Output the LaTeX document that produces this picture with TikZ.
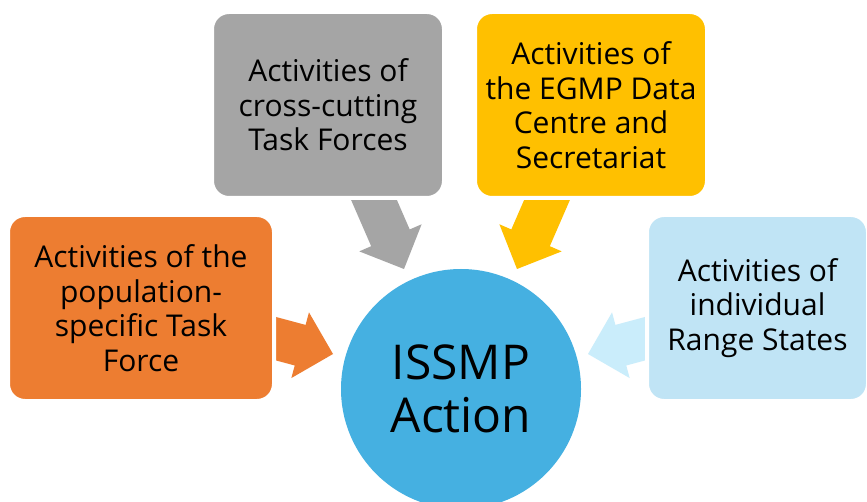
\documentclass[tikz,border=0pt]{standalone}
\usepackage{fontspec}
\setmainfont{Open Sans}
\usetikzlibrary{backgrounds}
\definecolor{cOrange}{HTML}{ED7D31}
\definecolor{cGray}{HTML}{A5A5A5}
\definecolor{cYellow}{HTML}{FFC000}
\definecolor{cCircle}{HTML}{45B0E1}
\definecolor{cPaleBox}{HTML}{C0E4F5}
\definecolor{cPaleArrow}{HTML}{CAEDFB}
\begin{document}
\begin{tikzpicture}[x=1pt,y=1pt,
  card/.style={rectangle, rounded corners=17pt, draw=white, line width=4pt,
    align=center, inner sep=0pt, text=black,
    font=\fontsize{30}{34.5}\selectfont},
  hub/.style={circle, fill=cCircle, minimum size=240pt, inner sep=0pt,
    align=center, text=black, font=\fontsize{48}{53.5}\selectfont},
  blockarrow/.pic={\path[pic actions] (0,0) -- (-34,34) -- (-34,21) -- (-100,21)
    -- (-100,-21) -- (-34,-21) -- (-34,-34) -- cycle;}
]
\useasboundingbox (0,0) rectangle (867,-502);
\begin{scope}
\clip (0,0) rectangle (867,-502);
\node[hub] (hub) at (461,-389) {ISSMP\\Action};
\node[card, fill=cOrange, minimum width=266pt, minimum height=186pt] (pop) at (141,-308)
  {Activities of the\\population-\\specific Task\\Force};
\node[card, fill=cGray, minimum width=232pt, minimum height=186pt] (cross) at (328,-105)
  {Activities of\\cross-cutting\\Task Forces};
\node[card, fill=cYellow, minimum width=232pt, minimum height=186pt] (egmp) at (591,-105)
  {Activities of\\the EGMP Data\\Centre and\\Secretariat};
\node[card, fill=cPaleBox, minimum width=221pt, minimum height=186pt] (range) at (757.5,-308)
  {Activities of\\individual\\Range States};
\end{scope}
\coordinate (tipO) at (333,-354);
\coordinate (tipG) at (404,-269);
\coordinate (tipY) at (517,-269);
\coordinate (tipB) at (588,-354);
\begin{pgfonlayer}{background}
\fill[white] (0,0) rectangle (867,-502);
\pic[fill=cOrange, rotate=-15] at (tipO) {blockarrow};
\pic[fill=cGray, rotate=-66.5] at (tipG) {blockarrow};
\pic[fill=cYellow, rotate=-113.5] at (tipY) {blockarrow};
\pic[fill=cPaleArrow, rotate=195] at (tipB) {blockarrow};
\end{pgfonlayer}
\end{tikzpicture}
\end{document}
